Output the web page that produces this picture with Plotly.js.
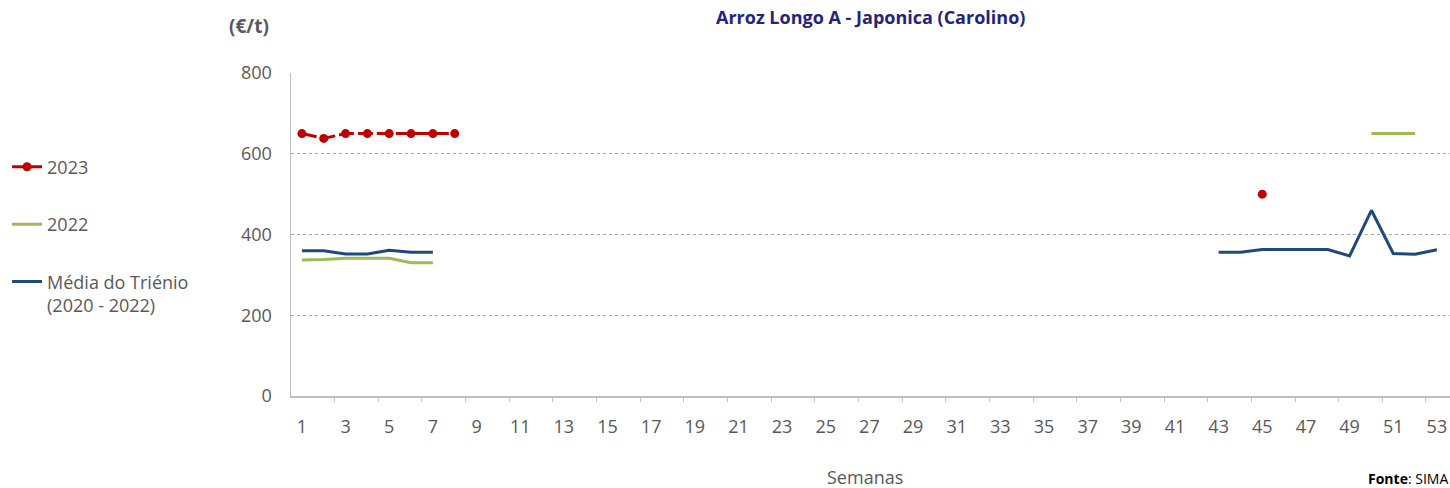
<!DOCTYPE html>
<html>
<head>
<meta charset="utf-8">
<script src="https://cdn.plot.ly/plotly-3.0.1.min.js"></script>
<style>html,body{margin:0;padding:0;background:#fff;}#chart{width:1450px;height:488px;}</style>
</head>
<body>
<div id="chart"></div>
<script>
const tickWeeks = [1,3,5,7,9,11,13,15,17,19,21,23,25,27,29,31,33,35,37,39,41,43,45,47,49,51,53];
const boundaryTicks = [2.5,4.5,6.5,8.5,10.5,12.5,14.5,16.5,18.5,20.5,22.5,24.5,26.5,28.5,30.5,32.5,34.5,36.5,38.5,40.5,42.5,44.5,46.5,48.5,50.5,52.5];

// weeks and values (null = break in the line)
const weeks2023 = [1,2,3,4,5,6,7,8,9,45];
const y2023     = [650,638,650,650,650,650,650,650,null,500];
const weeks2022 = [1,2,3,4,5,6,7,8,50,51,52];
const y2022     = [337,338,341,341,341,330,330,null,650,650,650];
const weeksMedia = [1,2,3,4,5,6,7,8,43,44,45,46,47,48,49,50,51,52,53];
const yMedia     = [360,360,352,352,361,356,356,null,356,356,363,363,363,363,347,460,353,351,362];

const FONT = '"Open Sans", Lato, sans-serif';
const FS = 18;

const traces = [
  {x: weeks2023, y: y2023, name: '2023', type: 'scatter', mode: 'lines+markers',
   line: {color: '#c00000', width: 3, dash: '15px,4px'}, marker: {color: '#c00000', size: 9},
   legendgroup: 'a'},
  {x: weeks2022, y: y2022, name: '2022', type: 'scatter', mode: 'lines',
   line: {color: '#9bbb59', width: 3}, legendgroup: 'b'},
  {x: weeksMedia, y: yMedia, name: 'Média do Triénio<br>(2020 - 2022)', type: 'scatter', mode: 'lines',
   line: {color: '#1f497d', width: 3}, legendgroup: 'c'},
  {x: boundaryTicks, y: boundaryTicks.map(() => null), xaxis: 'x2', showlegend: false, hoverinfo: 'skip', mode: 'lines'}
];

const layout = {
  width: 1450, height: 488,
  margin: {l: 291, r: 0, t: 73, b: 92},
  paper_bgcolor: '#fff', plot_bgcolor: '#fff',
  font: {family: FONT, size: FS, color: '#595959'},
  showlegend: true,
  legend: {x: -0.245, xanchor: 'left', y: 0.766, yanchor: 'top',
           traceorder: 'grouped', tracegroupgap: 31, valign: 'top',
           font: {family: FONT, size: FS, color: '#595959'}, itemwidth: 30},
  xaxis: {range: [0.5, 53.6], tickvals: tickWeeks, ticktext: tickWeeks.map(String),
          ticks: '', showgrid: false, zeroline: false, showline: true,
          linecolor: '#bfbfbf', linewidth: 1.5, ticklabelstandoff: 14,
          tickfont: {family: FONT, size: FS, color: '#595959'}, fixedrange: true},
  xaxis2: {overlaying: 'x', range: [0.5, 53.6], tickvals: boundaryTicks, showticklabels: false,
           ticks: 'outside', ticklen: 5, tickcolor: '#bfbfbf', tickwidth: 1,
           showgrid: false, zeroline: false, showline: false, side: 'bottom', anchor: 'y'},
  yaxis: {range: [0, 800], tickvals: [0,200,400,600,800], showgrid: true,
          gridcolor: '#a6a6a6', griddash: 'dot', gridwidth: 1, zeroline: false,
          showline: true, linecolor: '#bfbfbf', linewidth: 1.5, ticks: '',
          ticklabelstandoff: 14, tickfont: {family: FONT, size: FS, color: '#595959'}},
  annotations: [
    {text: '<b>Arroz Longo A - Japonica (Carolino)</b>', xref: 'paper', yref: 'paper',
     x: (870-291)/1159, y: (396-17)/323, xanchor: 'center', yanchor: 'middle', showarrow: false,
     font: {family: FONT, size: 18, color: '#25237d'}},
    {text: '<b>(€/t)</b>', xref: 'paper', yref: 'paper', x: (249-291)/1159, y: (396-26)/323,
     xanchor: 'center', yanchor: 'middle', showarrow: false,
     font: {family: FONT, size: 19, color: '#595959'}},
    {text: 'Semanas', xref: 'paper', yref: 'paper', x: (865-291)/1159, y: (396-477)/323,
     xanchor: 'center', yanchor: 'middle', showarrow: false,
     font: {family: FONT, size: FS, color: '#595959'}},
    {text: '<b>Fonte</b>: SIMA', xref: 'paper', yref: 'paper', x: 1, y: (396-478)/323,
     xanchor: 'right', yanchor: 'middle', showarrow: false,
     font: {family: FONT, size: 14, color: '#000'}}
  ]
};

Plotly.newPlot('chart', traces, layout, {displayModeBar: false, staticPlot: true});
</script>
</body>
</html>
